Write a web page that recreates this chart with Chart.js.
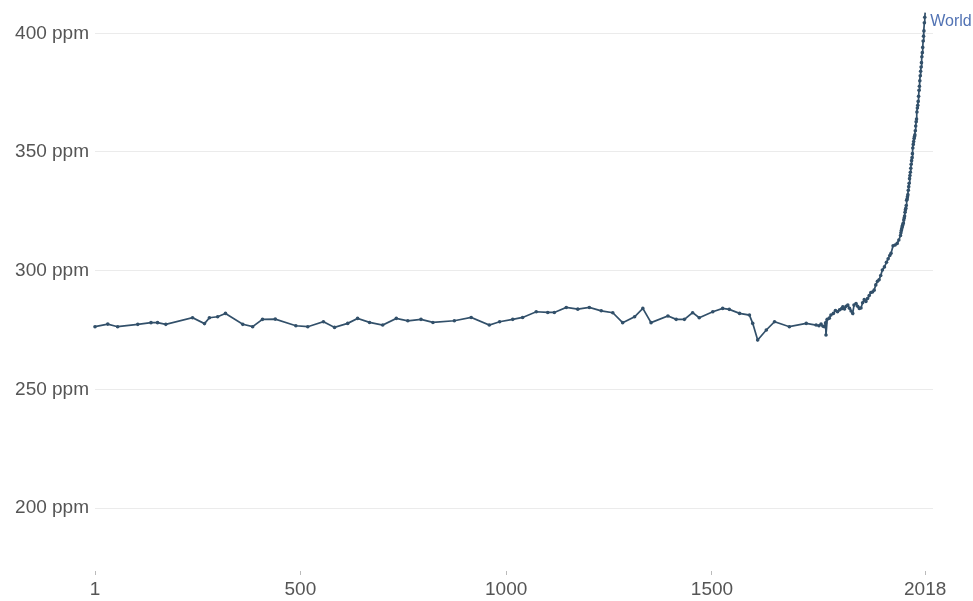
<!DOCTYPE html>
<html>
<head>
<meta charset="utf-8">
<script src="https://cdn.jsdelivr.net/npm/chart.js@4/dist/chart.umd.min.js"></script>
<style>
  html, body { margin: 0; padding: 0; background: #fff; }
  #wrap { width: 973px; height: 601px; position: relative; }
</style>
</head>
<body>
<div id="wrap"><canvas id="c" width="973" height="601"></canvas></div>
<script>
const seriesName = "World";
const years = [
  1, 32, 56, 105, 137, 153, 173, 238, 267, 279, 299, 318, 360, 384, 408, 439, 489, 518, 556, 583,
  615, 639, 668, 700, 733, 761, 793, 822, 874, 915, 959, 984, 1016, 1040, 1073, 1101, 1117, 1146, 1174,
  1202, 1231, 1259, 1283, 1312, 1332, 1352, 1393, 1413, 1433, 1453, 1469, 1502, 1526, 1542, 1567, 1591,
  1599, 1611, 1632, 1652, 1688, 1729, 1753, 1760, 1765, 1770, 1773, 1776, 1777, 1780, 1785, 1789,
  1795, 1800, 1805, 1810, 1815, 1818, 1822, 1826, 1830, 1834, 1838, 1842, 1845, 1850, 1854, 1858,
  1862, 1866, 1870, 1874, 1878, 1882, 1886, 1890, 1894, 1898, 1902, 1906, 1910, 1914, 1919, 1924,
  1928, 1932, 1935, 1940, 1945, 1950, 1954, 1958,
  1959, 1960, 1961, 1962, 1963, 1964, 1965, 1966, 1967, 1968, 1969, 1970, 1971, 1972, 1973, 1974,
  1975, 1976, 1977, 1978, 1979, 1980, 1981, 1982, 1983, 1984, 1985, 1986, 1987, 1988, 1989, 1990,
  1991, 1992, 1993, 1994, 1995, 1996, 1997, 1998, 1999, 2000, 2001, 2002, 2003, 2004, 2005, 2006,
  2007, 2008, 2009, 2010, 2011, 2012, 2013, 2014, 2015, 2016, 2017, 2018
];
const co2 = [
  276.4, 277.5, 276.4, 277.4, 278.1, 278.1, 277.4, 280.2, 277.7, 280.2, 280.6, 282.0, 277.4, 276.4, 279.5, 279.6, 276.8, 276.4, 278.5, 276.1,
  277.8, 279.9, 278.2, 277.1, 279.9, 278.9, 279.5, 278.2, 278.9, 280.3, 277.1, 278.5, 279.5, 280.3, 282.7, 282.4, 282.4, 284.5, 283.8,
  284.5, 283.1, 282.3, 278.1, 280.6, 284.1, 278.1, 280.9, 279.5, 279.5, 282.3, 280.2, 282.7, 284.1, 283.7, 282.0, 281.3,
  277.8, 270.8, 275.0, 278.5, 276.4, 277.8, 277.1, 276.8, 277.5, 276.6, 276.4, 278.0, 272.9, 279.5, 280.0, 281.3,
  282.0, 283.2, 282.7, 283.5, 284.0, 284.8, 283.9, 285.0, 285.5, 284.2, 283.0, 282.0, 285.5, 286.2, 285.0, 284.1,
  284.3, 286.5, 287.8, 287.0, 288.3, 289.5, 290.8, 291.0, 291.8, 294.0, 295.5, 296.2, 298.0, 300.3, 301.6, 303.5,
  305.0, 306.4, 307.3, 310.5, 310.8, 311.5, 312.9, 314.8,
  315.98, 316.91, 317.64, 318.45, 318.99, 319.62, 320.04, 321.37, 322.18, 323.05, 324.62, 325.68, 326.32, 327.46, 329.68, 330.19,
  331.13, 332.03, 333.84, 335.41, 336.84, 338.76, 340.12, 341.48, 343.15, 344.85, 346.35, 347.61, 349.31, 351.69, 353.20, 354.45,
  355.70, 356.54, 357.21, 358.96, 360.97, 362.74, 363.88, 366.84, 368.54, 369.71, 371.32, 373.45, 375.98, 377.70, 379.98, 382.09,
  384.02, 385.83, 387.64, 390.10, 391.85, 394.06, 396.74, 398.81, 401.01, 404.41, 406.76, 408.72
];
const xTicks = [1, 500, 1000, 1500, 2018];
const yTicks = [200, 250, 300, 350, 400];

const FONT = "'Liberation Sans', Arial, Helvetica, sans-serif";
const lineColor = "#32506a";

const endLabel = {
  id: 'endLabel',
  afterDatasetsDraw(chart) {
    const meta = chart.getDatasetMeta(0);
    const pt = meta.data[meta.data.length - 1];
    const ctx = chart.ctx;
    ctx.save();
    ctx.font = "16px " + FONT;
    ctx.fillStyle = "#5273b4";
    ctx.textAlign = "left";
    ctx.textBaseline = "middle";
    ctx.fillText(seriesName, pt.x + 5, pt.y + 9);
    ctx.restore();
  }
};

new Chart(document.getElementById('c'), {
  type: 'line',
  data: {
    datasets: [{
      label: seriesName,
      data: years.map((y, i) => ({ x: y, y: co2[i] })),
      borderColor: lineColor,
      backgroundColor: lineColor,
      borderWidth: 1.7,
      pointRadius: 1.8,
      pointBorderWidth: 0,
      pointBackgroundColor: lineColor,
      tension: 0,
      fill: false,
      clip: false
    }]
  },
  options: {
    responsive: false,
    animation: false,
    layout: { padding: { top: 0, right: 40, left: 0, bottom: 0 } },
    plugins: { legend: { display: false }, tooltip: { enabled: false } },
    scales: {
      x: {
        type: 'linear',
        min: 1,
        max: 2037,
        afterBuildTicks(scale) { scale.ticks = xTicks.map(v => ({ value: v })); },
        afterFit(scale) { scale.height = 33.6; },
        border: { display: false },
        grid: {
          drawOnChartArea: false,
          drawTicks: true,
          tickLength: 8,
          color: '#bbbbbb',
          tickBorderDash: [0, 4, 4, 40]
        },
        ticks: {
          autoSkip: false,
          maxRotation: 0,
          padding: 3,
          color: '#555555',
          font: { family: FONT, size: 19 },
          callback: (v) => String(v)
        }
      },
      y: {
        min: 175,
        max: 406.7,
        afterBuildTicks(scale) { scale.ticks = yTicks.map(v => ({ value: v })); },
        afterFit(scale) { scale.width = 95; },
        border: { display: false },
        grid: {
          drawTicks: false,
          color: '#ebebeb',
          lineWidth: 1
        },
        ticks: {
          padding: 6,
          color: '#555555',
          font: { family: FONT, size: 19 },
          callback: (v) => v + ' ppm'
        }
      }
    }
  },
  plugins: [endLabel]
});
</script>
</body>
</html>
